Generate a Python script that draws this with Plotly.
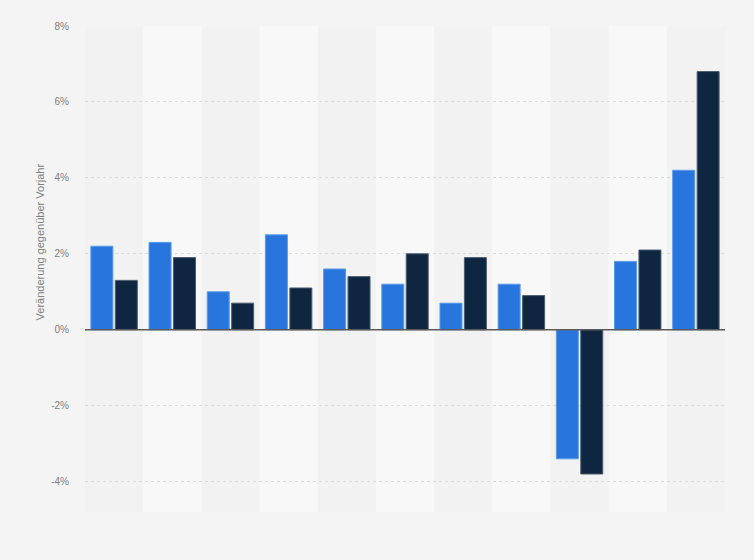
import plotly.graph_objects as go

categories = ["2012", "2013", "2014", "2015", "2016", "2017", "2018", "2019", "2020", "2021", "2022"]
series_a = [2.2, 2.3, 1.0, 2.5, 1.6, 1.2, 0.7, 1.2, -3.4, 1.8, 4.2]
series_b = [1.3, 1.9, 0.7, 1.1, 1.4, 2.0, 1.9, 0.9, -3.8, 2.1, 6.8]
y_ticks = [-4, -2, 0, 2, 4, 6, 8]
y_tick_labels = ["-4%", "-2%", "0%", "2%", "4%", "6%", "8%"]

fig = go.Figure()
fig.add_trace(go.Bar(
    x=categories, y=series_a, name="Serie 1",
    marker=dict(color="#2876dd", line=dict(color="#5b9be9", width=1)),
))
fig.add_trace(go.Bar(
    x=categories, y=series_b, name="Serie 2",
    marker=dict(color="#0f2640", line=dict(color="#4d5d70", width=1)),
))

shapes = []
for i in range(len(categories)):
    if i % 2 == 1:
        shapes.append(dict(
            type="rect", xref="x", yref="paper",
            x0=i - 0.5, x1=i + 0.5, y0=0, y1=1,
            fillcolor="#f8f8f8", line=dict(width=0), layer="below",
        ))
shapes.append(dict(
    type="line", xref="paper", yref="y", x0=0, x1=1, y0=0, y1=0,
    line=dict(color="#5a5a5a", width=1.5), layer="above",
))

fig.update_layout(
    width=754, height=560,
    margin=dict(l=77, r=37, t=12, b=56),
    paper_bgcolor="#f4f4f4",
    plot_bgcolor="#f2f2f2",
    barmode="group",
    bargap=0.16,
    bargroupgap=0.1,
    showlegend=False,
    shapes=shapes,
    font=dict(family="Liberation Sans, Arial, sans-serif", color="#777777", size=10),
    xaxis=dict(
        showticklabels=False, showgrid=False, zeroline=False,
        range=[-0.5, len(categories) - 0.5], fixedrange=True,
    ),
    yaxis=dict(
        range=[-4.8, 8], tickvals=y_ticks, ticktext=y_tick_labels,
        showgrid=True, gridcolor="#dcdcdc", griddash="dot", gridwidth=1,
        zeroline=False, ticks="", ticklabelstandoff=15,
        tickfont=dict(size=10, color="#808080"),
    ),
    annotations=[dict(
        text="Veränderung gegenüber Vorjahr",
        xref="paper", yref="y", x=0, y=2.3, xanchor="center", yanchor="middle",
        xshift=-45, textangle=-90, showarrow=False,
        font=dict(size=11, color="#808080"),
    )],
)

fig.write_html(
    "out.html",
    post_script="document.body.style.background='#f4f4f4';",
)
